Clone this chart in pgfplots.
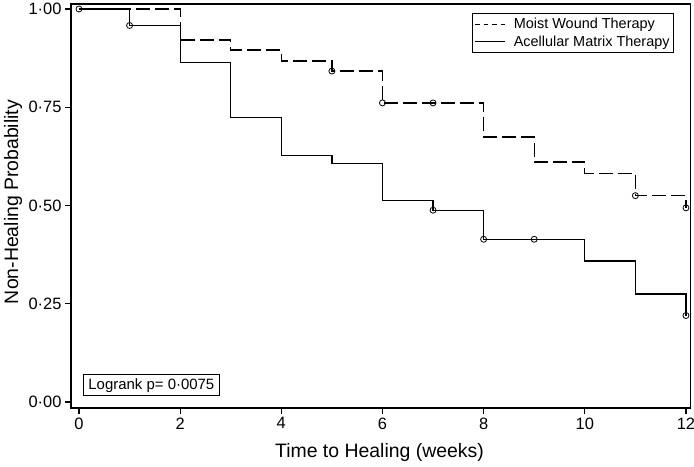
\documentclass[border=0pt]{standalone}
\usepackage{fontspec}
\setmainfont{Liberation Sans}
\usepackage{pgfplots}
\pgfplotsset{compat=1.18}
\begin{document}
\begin{tikzpicture}
\path[use as bounding box] (-71bp,-59bp) rectangle (623bp,408bp);
\begin{axis}[
  at={(0,0)}, anchor=south west,
  scale only axis, width=619.5bp, height=404bp,
  xmin=-0.158, xmax=12.09, ymin=-0.0153, ymax=1.0127,
  axis line style={line width=1.4bp, black},
  tick align=outside, xtick pos=bottom, ytick pos=left,
  major tick length=6bp,
  tick style={line width=1.1bp, black},
  xtick={0,2,...,12},
  ytick={0,0.25,0.5,0.75,1},
  yticklabels={0·00,0·25,0·50,0·75,1·00},
  /pgf/number format/assume math mode=true,
  ticklabel style={font=\fontsize{16.5}{19}\selectfont},
  xlabel={Time to Healing (weeks)},
  ylabel={Non-Healing Probability},
  label style={font=\fontsize{19.5}{22}\selectfont},
  xlabel style={at={(axis description cs:0.498,-0.111)}, anchor=center},
  ylabel style={at={(axis description cs:-0.0936,0.51)}, anchor=center},
  legend style={at={(axis description cs:0.9734,0.9777)}, anchor=north east,
    draw=black, line width=0.9bp, font=\fontsize{14.5}{17}\selectfont,
    cells={anchor=west}, inner xsep=2bp, inner ysep=3bp, row sep=1.5bp},
]
\addplot[const plot, black, line width=1.3bp, dash pattern=on 14bp off 5bp,
  legend image code/.code={\draw[black, line width=1.2bp, dash pattern=on 4.5bp off 4bp] (0bp,0bp) -- (30bp,0bp); \path (36bp,0bp);}]
  coordinates {(0,1) (2,0.921) (3,0.896) (4,0.868) (5,0.842) (6,0.761) (8,0.674) (9,0.611) (10,0.582) (11,0.525) (12,0.494)};
\addlegendentry{Moist Wound Therapy}
\addplot[const plot, black, line width=1.3bp,
  legend image code/.code={\draw[black, line width=1.2bp] (0bp,0bp) -- (30bp,0bp); \path (36bp,0bp);}]
  coordinates {(0,1) (1,0.958) (2,0.863) (3,0.723) (4,0.628) (5,0.606) (6,0.512) (7,0.488) (8,0.414) (10,0.359) (11,0.275) (12,0.22)};
\addlegendentry{Acellular Matrix Therapy}
\addplot[forget plot, only marks, mark=o, mark size=3bp, black, mark options={line width=0.8bp}]
  coordinates {(0,1) (1,0.958) (7,0.488) (8,0.414) (9,0.414) (12,0.22)};
\addplot[forget plot, only marks, mark=o, mark size=3bp, black, mark options={line width=0.8bp}]
  coordinates {(5,0.842) (6,0.761) (7,0.761) (11,0.525) (12,0.494)};
\node[draw=black, line width=0.9bp, anchor=south west, inner xsep=5bp, inner ysep=3.5bp,
  font=\fontsize{15}{18}\selectfont] at (axis cs:0.079,0.015) {Logrank p= 0·0075};
\end{axis}
\end{tikzpicture}
\end{document}
